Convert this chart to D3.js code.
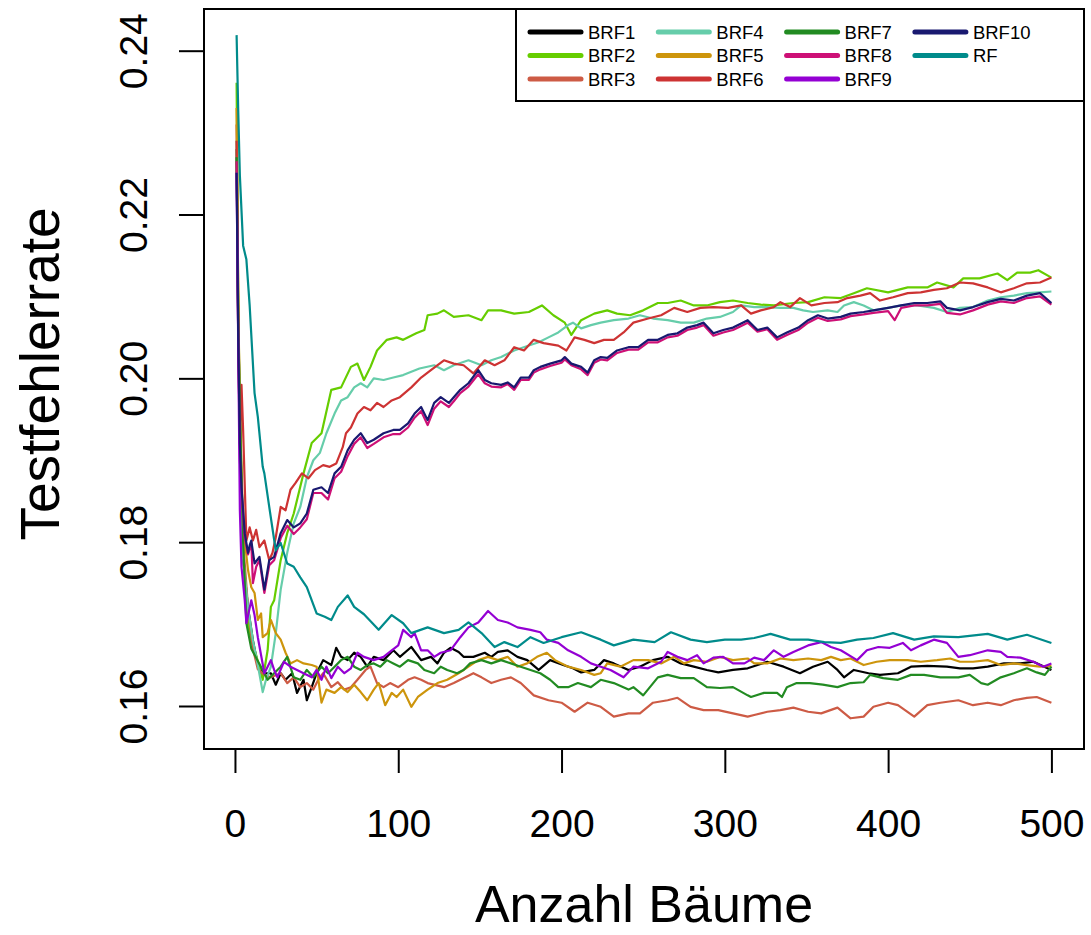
<!DOCTYPE html>
<html>
<head>
<meta charset="utf-8">
<script src="https://cdn.jsdelivr.net/npm/d3@7"></script>
<style>
  body { margin: 0; background: #fff; }
  text { font-family: "Liberation Sans", Arial, sans-serif; }
</style>
</head>
<body>
<div id="chart"></div>
<script>
// test error per number of trees, [trees, error]
const brf1 = [[1,.228],[2,.207],[3,.195],[5,.178],[8,.172],[11,.168],[14,.165],[18,.164],[22,.164],[25,.1626],[28,.164],[31,.1632],[35,.164],[38,.1616],[42,.1632],[44,.1607],[47,.1623],[50,.164],[54,.1656],[59,.165],[62,.1671],[65,.166],[69,.1656],[73,.1665],[77,.166],[81,.1648],[85,.166],[91,.1656],[97,.1668],[101,.166],[108,.1672],[114,.1656],[120,.166],[124,.1652],[128,.1665],[132,.1671],[137,.1666],[140,.166],[146,.166],[153,.1665],[157,.166],[161,.1666],[167,.1668],[173,.166],[179,.1656],[186,.1644],[193,.1656],[201,.165],[207,.1646],[212,.1641],[220,.1644],[226,.1656],[232,.1652],[241,.1644],[248,.1648],[256,.1656],[265,.166],[273,.1652],[281,.1648],[289,.1644],[296,.1641],[305,.1644],[314,.1646],[326,.1654],[336,.1648],[346,.164],[354,.1648],[363,.1654],[369,.1644],[373,.1635],[379,.1644],[388,.164],[395,.1638],[406,.164],[414,.1648],[424,.1649],[436,.1648],[444,.1646],[452,.1646],[461,.1648],[471,.1652],[481,.1652],[489,.1654],[500,.1644]];

const brf2 = [[1,.2361],[2,.21],[3,.195],[4,.185],[6,.175],[8,.17],[10,.168],[13,.1662],[17,.1632],[20,.1668],[22,.1721],[24,.1729],[28,.1778],[32,.1811],[36,.1835],[42,.1884],[47,.1921],[53,.1933],[59,.1986],[65,.1989],[71,.2014],[75,.2018],[79,.1998],[83,.2014],[87,.2034],[93,.2047],[99,.205],[103,.2047],[111,.2055],[116,.2059],[118,.2077],[124,.2079],[128,.2083],[134,.2075],[143,.2077],[151,.2071],[155,.2083],[163,.2083],[171,.2079],[180,.2081],[188,.2089],[195,.2077],[202,.2068],[206,.2053],[212,.2071],[220,.2079],[228,.2083],[234,.2079],[242,.2077],[250,.2083],[259,.2092],[265,.2092],[273,.2095],[281,.2089],[289,.2089],[297,.2093],[305,.2095],[314,.2092],[322,.209],[330,.2089],[342,.2092],[351,.2093],[361,.2099],[371,.2098],[379,.2104],[387,.211],[400,.2105],[412,.2111],[424,.2111],[430,.2117],[440,.2111],[446,.2122],[456,.2122],[467,.2128],[473,.212],[479,.2129],[487,.2129],[492,.2132],[500,.2123]];

const brf3 = [[1,.231],[2,.209],[3,.195],[5,.18],[8,.172],[11,.167],[14,.1645],[18,.1638],[22,.1635],[28,.164],[32,.1628],[36,.1635],[40,.1623],[44,.1628],[48,.162],[51,.1632],[54,.164],[59,.1623],[63,.1629],[67,.162],[71,.1623],[75,.1632],[80,.1644],[83,.1648],[87,.1628],[91,.1623],[95,.1628],[100,.1623],[106,.1632],[110,.1635],[114,.1632],[118,.1628],[128,.1623],[134,.1628],[138,.1632],[143,.1637],[146,.164],[151,.1635],[157,.1628],[163,.1632],[169,.1635],[175,.1628],[183,.1613],[192,.1607],[200,.1604],[208,.1593],[216,.1604],[224,.1599],[232,.1587],[241,.1591],[248,.1591],[256,.1604],[265,.1607],[271,.161],[279,.1599],[287,.1595],[296,.1595],[305,.1591],[314,.1587],[318,.1589],[326,.1593],[334,.1595],[342,.1598],[351,.1593],[359,.1591],[369,.1598],[377,.1585],[385,.1587],[391,.1599],[400,.1604],[406,.1601],[416,.1587],[424,.1601],[432,.1604],[443,.1607],[452,.1601],[461,.1604],[469,.1601],[477,.1607],[485,.161],[491,.1611],[500,.1604]];

const brf4 = [[1,.229],[2,.208],[3,.194],[5,.178],[8,.172],[11,.168],[14,.165],[17,.1617],[19,.1632],[22,.1648],[25,.1689],[28,.1742],[32,.1787],[36,.1823],[40,.1843],[44,.1879],[48,.19],[52,.1909],[56,.1933],[61,.1957],[65,.1973],[69,.1977],[73,.1989],[77,.1994],[81,.1989],[85,.2],[91,.1998],[97,.2001],[103,.2004],[113,.2012],[122,.2016],[128,.201],[134,.2016],[143,.2022],[151,.2016],[157,.2022],[163,.2026],[171,.2034],[180,.204],[186,.2044],[192,.205],[198,.2056],[204,.2065],[207,.2068],[212,.2061],[218,.2065],[224,.2068],[232,.2071],[241,.2073],[248,.2077],[256,.2073],[265,.2071],[273,.2068],[281,.2068],[289,.2073],[297,.2075],[305,.2081],[310,.2089],[318,.2087],[326,.2087],[334,.2086],[342,.2086],[348,.2083],[354,.2081],[363,.2083],[369,.2081],[373,.2089],[379,.2093],[385,.2089],[391,.2083],[400,.2086],[408,.2089],[418,.2089],[428,.2086],[436,.2081],[444,.2086],[452,.2087],[461,.2095],[469,.2099],[477,.2101],[485,.2104],[493,.2105],[500,.2106]];

const brf5 = [[1,.233],[2,.21],[3,.196],[5,.182],[8,.1766],[10,.1745],[12,.1738],[14,.1705],[16,.1713],[17,.1684],[20,.1689],[22,.1705],[25,.1689],[28,.1681],[31,.1665],[34,.1652],[38,.1656],[42,.1652],[47,.165],[50,.1648],[53,.1604],[56,.162],[61,.1616],[65,.1623],[69,.1617],[73,.1626],[77,.1617],[81,.1607],[85,.162],[88,.1628],[92,.1601],[96,.1616],[99,.1611],[103,.162],[108,.1599],[112,.1611],[118,.162],[124,.1628],[130,.1632],[137,.164],[143,.1648],[149,.1656],[155,.166],[161,.1656],[167,.166],[173,.1648],[179,.1652],[185,.166],[191,.1665],[196,.1656],[204,.1648],[212,.1644],[220,.1638],[224,.164],[228,.1652],[236,.1648],[244,.1656],[253,.1656],[261,.1652],[269,.166],[275,.1652],[281,.1656],[289,.1654],[297,.166],[305,.1656],[314,.1658],[318,.1652],[326,.1652],[334,.1658],[342,.1656],[351,.1658],[359,.1656],[365,.166],[371,.1656],[377,.1658],[385,.165],[393,.1654],[401,.1656],[412,.1656],[420,.1654],[430,.1656],[438,.1658],[444,.1654],[452,.1654],[461,.1656],[469,.165],[477,.1652],[485,.165],[493,.1648],[500,.1649]];

const brf6 = [[1,.229],[2,.205],[3,.192],[4,.1992],[5,.1937],[7,.1802],[9,.1818],[11,.1802],[13,.1815],[15,.1794],[18,.1802],[21,.1778],[23,.1787],[25,.1806],[28,.1843],[31,.1839],[34,.1864],[37,.1872],[41,.1884],[45,.1878],[49,.1888],[54,.1894],[58,.1892],[62,.1896],[66,.1916],[68,.1933],[71,.194],[75,.1957],[79,.1965],[83,.1961],[87,.197],[91,.1965],[96,.1973],[101,.1977],[108,.1989],[114,.2001],[120,.201],[128,.2022],[134,.2018],[140,.2016],[146,.2006],[153,.2022],[159,.2016],[165,.2022],[171,.2038],[177,.2034],[183,.2047],[189,.2043],[198,.204],[203,.2034],[208,.205],[214,.2047],[220,.2043],[226,.2047],[232,.2047],[238,.2056],[244,.2068],[253,.2073],[261,.2077],[269,.2086],[277,.2081],[285,.2086],[293,.2087],[302,.2086],[310,.2089],[316,.2079],[322,.2083],[330,.2087],[334,.2093],[340,.2087],[346,.2098],[353,.2089],[361,.2092],[369,.2093],[375,.2098],[383,.2101],[389,.2104],[395,.2095],[403,.2099],[412,.2104],[420,.2105],[428,.2108],[436,.211],[444,.2117],[452,.2116],[461,.2111],[469,.2105],[477,.211],[485,.2116],[493,.2117],[500,.2123]];

const brf7 = [[1,.227],[2,.207],[3,.196],[5,.18],[7,.1701],[10,.167],[14,.1655],[18,.164],[20,.1632],[24,.164],[28,.1648],[32,.166],[36,.1635],[40,.1632],[44,.1644],[48,.1635],[53,.1648],[57,.164],[61,.1648],[65,.1656],[69,.166],[73,.1648],[77,.1644],[81,.165],[85,.1652],[89,.1648],[93,.1656],[97,.1652],[101,.1648],[106,.1656],[112,.1652],[116,.1644],[122,.164],[126,.1648],[130,.1644],[136,.164],[140,.1644],[144,.1652],[151,.1656],[157,.1652],[163,.1656],[169,.1652],[175,.1648],[181,.1644],[187,.164],[193,.1632],[198,.1623],[204,.1623],[210,.1628],[218,.1623],[224,.1632],[232,.1628],[241,.162],[244,.1623],[250,.1613],[259,.1635],[265,.1638],[273,.1634],[281,.1634],[289,.1623],[297,.1622],[305,.1623],[314,.1613],[316,.1611],[324,.1616],[332,.1616],[335,.1611],[338,.1623],[344,.1628],[352,.1628],[360,.1626],[369,.1623],[377,.1628],[385,.1629],[389,.1638],[397,.1634],[406,.1632],[414,.1638],[422,.1638],[432,.1635],[443,.1635],[450,.1638],[457,.1628],[461,.1626],[469,.1635],[477,.164],[485,.1646],[491,.1641],[496,.1638],[500,.1648]];

const brf8 = [[1,.2265],[2,.205],[3,.19],[4,.1862],[6,.1805],[8,.1785],[10,.18],[11,.175],[13,.177],[15,.1778],[18,.1738],[21,.1772],[24,.1778],[28,.1805],[32,.182],[36,.181],[40,.1818],[44,.1828],[48,.186],[53,.186],[57,.1852],[61,.1878],[65,.1886],[69,.1905],[73,.192],[77,.1928],[81,.1915],[85,.192],[91,.1928],[97,.1932],[101,.1932],[106,.194],[110,.1952],[114,.196],[118,.1943],[122,.1963],[126,.1972],[131,.1965],[134,.1972],[138,.1982],[143,.199],[149,.2005],[153,.1994],[157,.199],[163,.1989],[167,.1993],[171,.1986],[175,.1998],[180,.1998],[183,.2007],[187,.2011],[193,.2015],[200,.2019],[202,.2023],[206,.2016],[212,.2011],[216,.2004],[220,.2019],[224,.2023],[228,.2022],[234,.2031],[241,.2035],[247,.2035],[253,.2044],[259,.2044],[265,.205],[271,.2052],[277,.2059],[283,.2062],[287,.2065],[293,.2052],[299,.2056],[305,.2059],[310,.2064],[314,.2068],[320,.2057],[326,.206],[332,.2047],[338,.2053],[345,.2059],[351,.2068],[357,.2074],[363,.207],[371,.2072],[377,.2076],[385,.2078],[391,.208],[400,.2082],[404,.2071],[408,.2086],[416,.2089],[424,.2089],[432,.2091],[436,.208],[444,.2078],[452,.2083],[461,.209],[469,.2094],[477,.2092],[485,.2098],[493,.21],[500,.209]];

const brf9 = [[1,.2251],[2,.204],[3,.1839],[4,.177],[6,.1729],[7,.1701],[10,.1729],[12,.1711],[14,.1684],[16,.1662],[18,.164],[20,.1648],[22,.1656],[24,.1644],[26,.1635],[30,.1654],[34,.1648],[38,.1644],[42,.164],[47,.1635],[50,.1644],[53,.1632],[56,.1648],[59,.1634],[63,.1648],[67,.164],[71,.1646],[75,.1665],[79,.166],[85,.1656],[91,.166],[96,.1668],[100,.1674],[103,.1693],[108,.1684],[110,.1689],[114,.1668],[118,.1668],[122,.166],[126,.1665],[132,.1668],[138,.1684],[143,.1696],[149,.1702],[155,.1716],[161,.1705],[167,.1702],[173,.1696],[181,.1693],[187,.169],[191,.1681],[198,.1677],[204,.1668],[212,.166],[218,.1652],[224,.1648],[230,.1644],[238,.1635],[244,.1648],[253,.1646],[261,.1654],[265,.1666],[271,.166],[277,.1656],[283,.1662],[287,.1652],[293,.1659],[299,.166],[305,.1652],[312,.1652],[318,.1659],[324,.1656],[330,.1668],[336,.166],[342,.1666],[351,.1674],[359,.1678],[365,.1672],[371,.1668],[381,.1656],[387,.1668],[394,.1672],[401,.1671],[409,.1677],[414,.1668],[420,.1674],[428,.1681],[436,.1677],[443,.166],[450,.1662],[461,.1668],[469,.1666],[473,.166],[481,.1659],[489,.1654],[495,.1648],[500,.1652]];

const brf10 = [[1,.2251],[2,.205],[3,.192],[4,.1867],[6,.1811],[8,.1787],[9,.1796],[10,.1802],[12,.1774],[15,.1782],[18,.1742],[21,.1778],[24,.1782],[28,.1811],[32,.1827],[36,.1818],[40,.1823],[44,.1835],[48,.1864],[53,.1867],[57,.186],[61,.1884],[65,.1892],[69,.1912],[73,.1925],[77,.1933],[81,.1921],[85,.1925],[91,.1933],[97,.1937],[101,.1937],[106,.1945],[110,.1957],[114,.1965],[118,.1949],[122,.197],[126,.1977],[131,.197],[134,.1977],[138,.1986],[143,.1994],[149,.201],[153,.1998],[157,.1994],[163,.1992],[167,.1995],[171,.1989],[175,.2001],[180,.2001],[183,.201],[187,.2014],[193,.2018],[200,.2022],[202,.2026],[206,.2018],[212,.2014],[216,.2007],[220,.2022],[224,.2026],[228,.2025],[234,.2034],[241,.2038],[247,.2038],[253,.2047],[259,.2047],[265,.2053],[271,.2055],[277,.2062],[283,.2065],[287,.2068],[293,.2055],[299,.2059],[305,.2062],[310,.2067],[314,.2071],[320,.2059],[326,.2062],[332,.205],[338,.2056],[345,.2062],[351,.2071],[357,.2077],[363,.2073],[371,.2075],[377,.2079],[385,.2081],[391,.2083],[400,.2086],[408,.2089],[416,.2092],[424,.2092],[432,.2094],[436,.2086],[444,.2083],[452,.2087],[461,.2093],[469,.2097],[477,.2095],[485,.2101],[493,.2104],[500,.2092]];

const rf = [[1,.2419],[2,.2327],[3,.2248],[5,.2162],[7,.2145],[9,.2089],[12,.1982],[14,.1953],[17,.1892],[18,.1884],[21,.1843],[24,.1803],[25,.179],[28,.1799],[32,.1774],[36,.177],[40,.1757],[44,.1745],[50,.1713],[55,.1709],[59,.1705],[63,.1721],[69,.1735],[73,.1721],[79,.1712],[88,.1693],[96,.1711],[103,.1701],[108,.1689],[118,.1696],[128,.1689],[137,.1693],[143,.1702],[151,.1689],[159,.1672],[165,.1678],[173,.1672],[181,.1684],[189,.1677],[200,.1684],[212,.169],[224,.1681],[232,.1674],[244,.1681],[257,.1678],[267,.169],[279,.1681],[289,.1678],[300,.1681],[310,.1681],[318,.1683],[328,.1688],[340,.1681],[351,.1681],[361,.1678],[371,.1677],[381,.1681],[391,.1683],[403,.1689],[416,.1681],[428,.1685],[443,.1684],[461,.1688],[473,.1681],[485,.1687],[500,.1677]];

const seriesNames = ["BRF1", "BRF2", "BRF3", "BRF4", "BRF5", "BRF6", "BRF7", "BRF8", "BRF9", "BRF10", "RF"];
const seriesData = [brf1, brf2, brf3, brf4, brf5, brf6, brf7, brf8, brf9, brf10, rf];
const seriesColors = ["#000000", "#66CD00", "#CD5B45", "#66CDAA", "#CD950C", "#CD3333",
                      "#228B22", "#CD1076", "#9400D3", "#191970", "#008B8B"];

const xTicks = [0, 100, 200, 300, 400, 500];
const yTicks = [0.16, 0.18, 0.20, 0.22, 0.24];

const width = 1091;
const height = 935;
const plot = { left: 204, right: 1084, top: 9, bottom: 749 };

const svg = d3.select("#chart")
    .append("svg")
    .attr("width", width)
    .attr("height", height);

// R-style scales (4% padding on each side)
const xScale = d3.scaleLinear()
    .domain([-18.96, 519.96])
    .range([plot.left, plot.right]);

const yScale = d3.scaleLinear()
    .domain([0.15475, 0.24509])
    .range([plot.bottom, plot.top]);

// lines
const line = d3.line()
    .x(d => xScale(d[0]))
    .y(d => yScale(d[1]));

svg.append("g")
    .selectAll("path")
    .data(seriesData)
    .enter()
    .append("path")
    .attr("d", line)
    .attr("fill", "none")
    .attr("stroke", (d, i) => seriesColors[i])
    .attr("stroke-width", 2.2)
    .attr("stroke-linejoin", "round");

// x axis
const xAxis = d3.axisBottom(xScale)
    .tickValues(xTicks)
    .tickSizeInner(24)
    .tickSizeOuter(0)
    .tickPadding(36);
const gx = svg.append("g")
    .attr("transform", `translate(0,${plot.bottom})`)
    .call(xAxis);
gx.selectAll("line").attr("stroke-width", 2);
gx.select(".domain").remove();
gx.selectAll("text")
    .attr("font-size", 39)
    .attr("font-family", "Liberation Sans, Arial, sans-serif")
    .attr("fill", "#000");

// y axis
const yAxis = d3.axisLeft(yScale)
    .tickValues(yTicks)
    .tickSizeInner(25)
    .tickSizeOuter(0)
    .tickFormat(d3.format(".2f"));
const gy = svg.append("g")
    .attr("transform", `translate(${plot.left},0)`)
    .call(yAxis);
gy.selectAll("line").attr("stroke-width", 2);
gy.select(".domain").remove();
gy.selectAll("text")
    .attr("font-size", 39)
    .attr("font-family", "Liberation Sans, Arial, sans-serif")
    .attr("fill", "#000")
    .attr("x", null)
    .attr("dy", null)
    .attr("text-anchor", "middle")
    .attr("transform", "translate(-57,0) rotate(-90)");

// box
svg.append("rect")
    .attr("x", plot.left)
    .attr("y", plot.top)
    .attr("width", plot.right - plot.left)
    .attr("height", plot.bottom - plot.top)
    .attr("fill", "none")
    .attr("stroke", "#000")
    .attr("stroke-width", 2);

// axis titles
svg.append("text")
    .attr("x", (plot.left + plot.right) / 2)
    .attr("y", 922)
    .attr("text-anchor", "middle")
    .attr("font-size", 52)
    .text("Anzahl Bäume");

svg.append("text")
    .attr("transform", `translate(59,374) rotate(-90)`)
    .attr("text-anchor", "middle")
    .attr("font-size", 55)
    .text("Testfehlerrate");

// legend
const legend = svg.append("g");
legend.append("rect")
    .attr("x", 516)
    .attr("y", plot.top)
    .attr("width", plot.right - 516)
    .attr("height", 92)
    .attr("fill", "#fff")
    .attr("stroke", "#000")
    .attr("stroke-width", 2);

const legendItems = legend.selectAll(".legendItem")
    .data(seriesNames)
    .enter()
    .append("g")
    .attr("class", "legendItem")
    .attr("transform", (d, i) => `translate(${528 + Math.floor(i / 3) * 128.3},${32 + (i % 3) * 23.5})`);

legendItems.append("line")
    .attr("x1", 2)
    .attr("x2", 53)
    .attr("stroke", (d, i) => seriesColors[i])
    .attr("stroke-width", 5)
    .attr("stroke-linecap", "round");

legendItems.append("text")
    .attr("x", 60)
    .attr("dy", "0.36em")
    .attr("font-size", 18.5)
    .text(d => d);
</script>
</body>
</html>
